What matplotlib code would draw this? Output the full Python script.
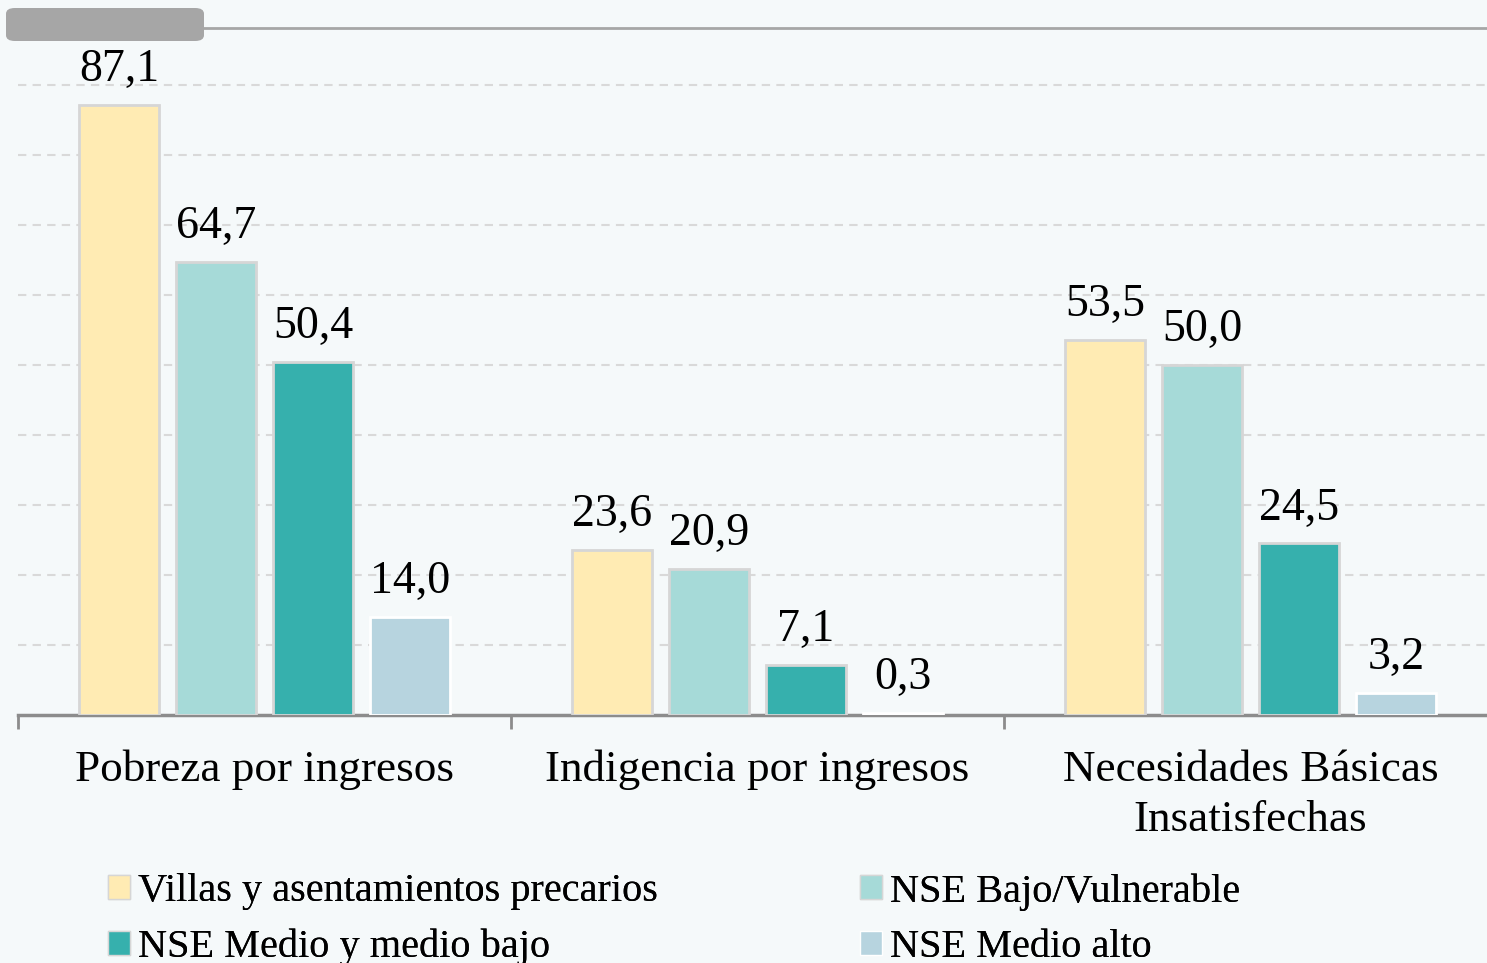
import matplotlib.pyplot as plt
import numpy as np
from matplotlib.patches import FancyBboxPatch, Patch

# Data
categorias = ["Pobreza por ingresos", "Indigencia por ingresos", "Necesidades Básicas\nInsatisfechas"]
series = ["Villas y asentamientos precarios", "NSE Bajo/Vulnerable",
          "NSE Medio y medio bajo", "NSE Medio alto"]
villas = [87.1, 23.6, 53.5]
bajo = [64.7, 20.9, 50.0]
medio_bajo = [50.4, 7.1, 24.5]
medio_alto = [14.0, 0.3, 3.2]

valores = [villas, bajo, medio_bajo, medio_alto]
colores = ["#FFEBB3", "#A6DAD8", "#36B0AD", "#B7D4DF"]
bordes = ["#D6D6D6", "#D6D6D6", "#D6D6D6", "#FFFFFF"]
fondo = "#F5F9FA"

plt.rcParams['font.family'] = ['Liberation Serif', 'DejaVu Serif']

fig = plt.figure(figsize=(14.87, 9.63), dpi=100, facecolor=fondo)
ax = fig.add_axes([18 / 1487, 248 / 963, 1479 / 1487, 687 / 963], facecolor=fondo)

x = np.arange(len(categorias))
paso = 0.197
ancho = 0.162
for i, (vals, c, b) in enumerate(zip(valores, colores, bordes)):
    pos = x + (i - 1.5) * paso
    ax.bar(pos, vals, width=ancho, color=c, edgecolor=b, linewidth=2, zorder=3)
    for xp, v in zip(pos, vals):
        ax.annotate(f"{v:.1f}".replace(".", ","), (xp, v), xytext=(0, 10),
                    textcoords="offset points", ha="center", va="bottom",
                    fontsize=33, color="black")

ax.set_xlim(-0.5, 2.5)
ax.set_ylim(0, 98.1)
ax.set_yticks(np.arange(10, 91, 10))
ax.yaxis.grid(True, linestyle=(0, (4, 3)), color="#D9D9D9", linewidth=1.5, zorder=0)
ax.tick_params(axis="y", left=False, labelleft=False)

ax.set_xticks(x)
ax.set_xticklabels(categorias, fontsize=32.5, linespacing=1.33)
ax.set_xticks([-0.5, 0.5, 1.5, 2.5], minor=True)
ax.tick_params(axis="x", which="major", length=0, pad=25)
ax.tick_params(axis="x", which="minor", length=10, width=2, color="#8C8C8C")

for s in ["left", "right"]:
    ax.spines[s].set_visible(False)
ax.spines["bottom"].set_color("#8C8C8C")
ax.spines["bottom"].set_linewidth(2.5)
ax.spines["top"].set_color("#A6A6A6")
ax.spines["top"].set_linewidth(2)

# gray rounded tab at top left
tab = FancyBboxPatch((6 / 1487, 922 / 963), 198 / 1487, 33 / 963,
                     boxstyle="round,pad=0,rounding_size=0.006",
                     transform=fig.transFigure, facecolor="#A6A6A6",
                     edgecolor="none", zorder=5)
fig.patches.append(tab)

# legend in two columns: Villas / Medio y medio bajo | Bajo / Medio alto
handles = [Patch(facecolor=colores[i], edgecolor=bordes[i], label=series[i]) for i in range(4)]
opts = dict(loc="upper left", frameon=False, fontsize=29, handlelength=0.55,
            handleheight=0.55, handletextpad=0.2, labelspacing=0.47,
            borderaxespad=0, borderpad=0)
for cols, x0 in [([0, 2], 108), ([1, 3], 860)]:
    leg = fig.legend([handles[i] for i in cols], [series[i] for i in cols],
                     bbox_to_anchor=(x0 / 1487, 1 - 873 / 963), **opts)
    fig.add_artist(leg)

fig.savefig("out.png", dpi=100, facecolor=fondo)
